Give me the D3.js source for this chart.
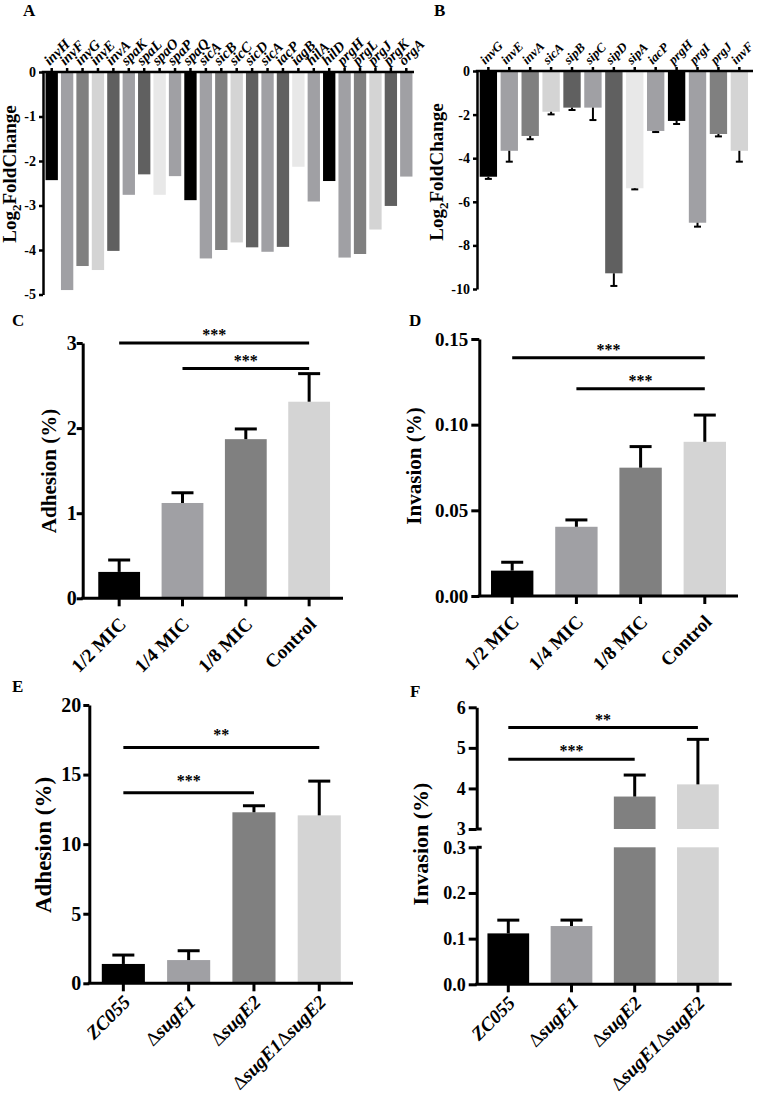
<!DOCTYPE html>
<html>
<head>
<meta charset="utf-8">
<script src="https://cdn.jsdelivr.net/npm/d3@7"></script>
<style>
  body { margin: 0; background: #fff; }
  svg { display: block; }
</style>
</head>
<body>
<svg id="fig" width="758" height="1109"></svg>
<script>
// ---- data ----
// A: log2 fold change, no error bars
const genesA = ["invH", "invF", "invG", "invE", "invA", "spaK", "spaL", "spaO", "spaP", "spaQ", "sicA", "sicB",
  "sicC", "sicD", "sicA", "iacP", "iagB", "hilA", "hilD", "prgH", "prgL", "prgJ", "prgK", "orgA"];
const log2fcA = [-2.43, -4.9, -4.36, -4.45, -4.02, -2.76, -2.3, -2.76, -2.34, -2.88, -4.19, -4.0,
  -3.83, -3.94, -4.04, -3.93, -2.13, -2.91, -2.45, -4.17, -4.09, -3.54, -3.01, -2.35];

// B: log2 fold change with SD
const genesB = ["invG", "invE", "invA", "sicA", "sipB", "sipC", "sipD", "sipA", "iacP", "prgH", "prgI", "prgJ", "invF"];
const log2fcB = [-4.85, -3.66, -2.98, -1.87, -1.68, -1.68, -9.28, -5.38, -2.75, -2.29, -6.96, -2.89, -3.66];
const sdB = [0.1, 0.5, 0.15, 0.12, 0.11, 0.57, 0.58, 0.05, 0.05, 0.14, 0.18, 0.11, 0.5];

// C / D
const doses = ["1/2 MIC", "1/4 MIC", "1/8 MIC", "Control"];
const adhesionC = [0.31, 1.12, 1.87, 2.31];
const adhesionSdC = [0.14, 0.12, 0.12, 0.33];
const invasionD = [0.0148, 0.0404, 0.0749, 0.09];
const invasionSdD = [0.0049, 0.004, 0.0123, 0.0156];

// E / F
const strains = ["ZC055", "ΔsugE1", "ΔsugE2", "ΔsugE1ΔsugE2"];
const adhesionE = [1.39, 1.67, 12.29, 12.07];
const adhesionSdE = [0.64, 0.67, 0.47, 2.46];
const invasionF = [0.1115, 0.1276, 3.8, 4.1];
const invasionSdF = [0.029, 0.013, 0.53, 1.11];

// significance brackets: [from, to, value, label]
const sigC = [[0, 3, 3.0, "***"], [1, 3, 2.7, "***"]];
const sigD = [[0, 3, 0.139, "***"], [1, 3, 0.121, "***"]];
const sigE = [[0, 3, 16.95, "**"], [0, 2, 13.7, "***"]];
const sigF = [[0, 3, 5.5, "**"], [0, 2, 4.72, "***"]];

const grays = ["#000000", "#a0a0a4", "#808080", "#d4d4d4", "#606060", "#a0a0a4", "#606060", "#e8e8e8", "#a0a0a4"];
const serif = "'Liberation Serif', 'Times New Roman', serif";

const svg = d3.select("#fig")
  .attr("font-family", serif)
  .attr("font-weight", "bold");

function panelLetter(t, x, y, size) {
  svg.append("text").attr("x", x).attr("y", y).attr("font-size", size).text(t);
}

// ---- A and B: downward fold-change bars, gene names on top ----
function geneChart(o) {
  const g = svg.append("g");
  const x = d3.scaleBand().domain(d3.range(o.genes.length)).range(o.xRange)
    .paddingInner(o.pad).paddingOuter(o.pad / 2);
  const y = d3.scaleLinear().domain(o.yDomain).range(o.yRange);

  g.append("g").selectAll("rect").data(o.values).join("rect")
    .attr("x", (d, i) => x(i))
    .attr("width", x.bandwidth())
    .attr("y", y(0))
    .attr("height", d => y(d) - y(0))
    .attr("fill", (d, i) => grays[i % grays.length]);

  if (o.sd) {
    const eb = g.append("g").attr("stroke", "#000").attr("stroke-width", 2);
    o.values.forEach((d, i) => {
      const cx = x(i) + x.bandwidth() / 2;
      eb.append("line").attr("x1", cx).attr("x2", cx).attr("y1", y(d)).attr("y2", y(d - o.sd[i]));
      eb.append("line").attr("x1", cx - 3.5).attr("x2", cx + 3.5).attr("y1", y(d - o.sd[i])).attr("y2", y(d - o.sd[i]));
    });
  }

  g.append("g")
    .attr("transform", `translate(${o.axisX},0)`)
    .call(d3.axisLeft(y).tickValues(o.yTicks).tickSize(4).tickSizeOuter(0).tickPadding(3).tickFormat(d => String(d)))
    .attr("font-family", serif).attr("font-size", 14).attr("font-weight", "bold")
    .attr("stroke-width", 2.5);

  const xa = g.append("g")
    .attr("transform", `translate(0,${y(0)})`)
    .call(d3.axisTop(x).tickSize(4).tickSizeOuter(0).tickFormat(i => o.genes[i]))
    .attr("font-family", serif).attr("font-size", o.geneFont).attr("font-weight", "bold")
    .attr("stroke-width", 2.5);
  xa.select(".domain").remove();
  xa.selectAll("text")
    .attr("x", 0).attr("y", 0).attr("dy", 0)
    .attr("text-anchor", "start")
    .attr("font-style", "italic")
    .attr("transform", `translate(${o.geneDx},-6) rotate(-45)`);
  g.append("line")
    .attr("x1", o.axisX - 1.25).attr("x2", o.axisEnd)
    .attr("y1", y(0)).attr("y2", y(0))
    .attr("stroke", "#000").attr("stroke-width", 2.5);

  const lab = g.append("text")
    .attr("transform", `translate(${o.ylab[0]},${o.ylab[1]}) rotate(-90)`)
    .attr("text-anchor", "middle").attr("font-size", 19);
  lab.append("tspan").text("Log");
  lab.append("tspan").attr("font-size", 13).attr("dy", 5).text("2");
  lab.append("tspan").attr("dy", -5).text("FoldChange");
}

// ---- C to F: group bars with SD, optional broken y axis ----
function groupChart(o) {
  const g = svg.append("g");
  const x = d3.scaleBand().domain(d3.range(o.groups.length)).range(o.xRange)
    .paddingInner(0.34).paddingOuter(0.17);
  const segs = o.segments.map(s => ({ ...s, y: d3.scaleLinear().domain(s.domain).range(s.range) }));
  const yMap = v => {
    const s = segs.find(s => v >= s.domain[0] && v <= s.domain[1]) || segs[segs.length - 1];
    return s.y(v);
  };
  const y0 = segs[0].y(0);
  const cx = i => x(i) + x.bandwidth() / 2;

  // bars, cut into pieces per axis segment
  o.values.forEach((v, i) => {
    segs.forEach(s => {
      if (v <= s.domain[0] && s.domain[0] > 0) return;
      const top = s.y(Math.min(v, s.domain[1]));
      g.append("rect")
        .attr("x", x(i)).attr("width", x.bandwidth())
        .attr("y", top).attr("height", s.y(s.domain[0]) - top)
        .attr("fill", grays[i % grays.length]);
    });
  });

  const eb = g.append("g").attr("stroke", "#000").attr("stroke-width", 3);
  o.values.forEach((v, i) => {
    const s = segs.find(s => v >= s.domain[0] && v <= s.domain[1]);
    const top = s.y(v + o.sd[i]);
    eb.append("line").attr("x1", cx(i)).attr("x2", cx(i)).attr("y1", s.y(v)).attr("y2", top);
    eb.append("line").attr("x1", cx(i) - 11).attr("x2", cx(i) + 11).attr("y1", top).attr("y2", top);
  });

  segs.forEach(s => {
    g.append("g")
      .attr("transform", `translate(${o.axisX},0)`)
      .call(d3.axisLeft(s.y).tickValues(s.ticks).tickSize(o.tickLen).tickSizeOuter(0)
        .tickPadding(o.tickPad).tickFormat(d3.format(s.fmt)))
      .attr("font-family", serif).attr("font-size", o.tickFont).attr("font-weight", "bold")
      .attr("stroke-width", 3);
  });
  if (segs.length > 1) {
    [segs[0].y(segs[0].domain[1]), segs[1].y(segs[1].domain[0])].forEach(yy => {
      g.append("line").attr("x1", o.axisX).attr("x2", o.axisX + 5)
        .attr("y1", yy).attr("y2", yy).attr("stroke", "#000").attr("stroke-width", 3);
    });
  }

  g.append("line")
    .attr("x1", o.axisX - 1.5).attr("x2", o.xEnd).attr("y1", y0).attr("y2", y0)
    .attr("stroke", "#000").attr("stroke-width", 3);
  g.append("g").selectAll("line").data(o.groups).join("line")
    .attr("x1", (d, i) => cx(i)).attr("x2", (d, i) => cx(i))
    .attr("y1", y0).attr("y2", y0 + 8)
    .attr("stroke", "#000").attr("stroke-width", 3);

  g.append("g").selectAll("text").data(o.groups).join("text")
    .attr("transform", (d, i) => `translate(${cx(i) + o.xlabOff[0]},${y0 + o.xlabOff[1]}) rotate(-45)`)
    .attr("text-anchor", "end")
    .attr("font-size", 19)
    .each(function (d) {
      const t = d3.select(this);
      d.split(/(Δ)/).filter(p => p).forEach(p => {
        const ts = t.append("tspan").text(p);
        if (p === "Δ") ts.attr("font-style", "normal").attr("font-weight", "normal");
        else if (o.italic) ts.attr("font-style", "italic");
      });
    });

  o.sig.forEach(([a, b, v, lab]) => {
    const yy = yMap(v);
    g.append("line").attr("x1", cx(a)).attr("x2", cx(b)).attr("y1", yy).attr("y2", yy)
      .attr("stroke", "#000").attr("stroke-width", 3);
    g.append("text").attr("x", (cx(a) + cx(b)) / 2).attr("y", yy - o.starGap)
      .attr("text-anchor", "middle").attr("font-size", 16).text(lab);
  });

  g.append("text")
    .attr("transform", `translate(${o.ylab[0]},${o.ylab[1]}) rotate(-90)`)
    .attr("text-anchor", "middle").attr("font-size", o.ylabSize)
    .text(o.ylabel);
}

// ---- layout ----
panelLetter("A", 23, 16, 17);
geneChart({
  genes: genesA, values: log2fcA, geneFont: 14.5, geneDx: -2,
  xRange: [44, 414], pad: 0.2, axisX: 43, axisEnd: 414,
  yDomain: [0, -5], yRange: [72, 294.5], yTicks: [0, -1, -2, -3, -4, -5],
  ylab: [16, 174]
});

panelLetter("B", 434, 16, 17);
geneChart({
  genes: genesB, values: log2fcB, sd: sdB, geneFont: 13, geneDx: -3,
  xRange: [477.9, 749.8], pad: 0.17, axisX: 477, axisEnd: 753,
  yDomain: [0, -10], yRange: [71, 289], yTicks: [0, -2, -4, -6, -8, -10],
  ylab: [443, 172]
});

panelLetter("C", 12, 326, 17);
groupChart({
  groups: doses, values: adhesionC, sd: adhesionSdC, sig: sigC,
  axisX: 82.7, xEnd: 343, xRange: [87.5, 340.8],
  segments: [{ domain: [0, 3], range: [598.3, 343], ticks: [0, 1, 2, 3], fmt: "d" }],
  tickLen: 6, tickPad: 0, tickFont: 20,
  xlabOff: [8, 27], italic: false, starGap: 3,
  ylabel: "Adhesion (%)", ylab: [56, 471], ylabSize: 21
});

panelLetter("D", 409, 326, 17);
groupChart({
  groups: doses, values: invasionD, sd: invasionSdD, sig: sigD,
  axisX: 479.3, xEnd: 738, xRange: [480.1, 736.9],
  segments: [{ domain: [0, 0.15], range: [596, 339], ticks: [0, 0.05, 0.1, 0.15], fmt: ".2f" }],
  tickLen: 8, tickPad: 3, tickFont: 19,
  xlabOff: [8, 27], italic: false, starGap: 3,
  ylabel: "Invasion (%)", ylab: [421, 466], ylabSize: 21
});

panelLetter("E", 12, 692, 17);
groupChart({
  groups: strains, values: adhesionE, sd: adhesionSdE, sig: sigE,
  axisX: 89.3, xEnd: 353, xRange: [90.7, 351.9],
  segments: [{ domain: [0, 20], range: [983.3, 705], ticks: [0, 5, 10, 15, 20], fmt: "d" }],
  tickLen: 6, tickPad: 2, tickFont: 20,
  xlabOff: [8, 20], italic: true, starGap: 7,
  ylabel: "Adhesion (%)", ylab: [51, 845], ylabSize: 23
});

panelLetter("F", 410, 697, 17);
groupChart({
  groups: strains, values: invasionF, sd: invasionSdF, sig: sigF,
  axisX: 476.7, xEnd: 731.7, xRange: [476.7, 729.5],
  segments: [
    { domain: [0, 0.3], range: [984.3, 847.3], ticks: [0, 0.1, 0.2, 0.3], fmt: ".1f" },
    { domain: [3, 6], range: [829, 707.3], ticks: [3, 4, 5, 6], fmt: "d" }
  ],
  tickLen: 8, tickPad: 3, tickFont: 18,
  xlabOff: [8, 20], italic: true, starGap: 3,
  ylabel: "Invasion (%)", ylab: [428, 844], ylabSize: 22
});
</script>
</body>
</html>
